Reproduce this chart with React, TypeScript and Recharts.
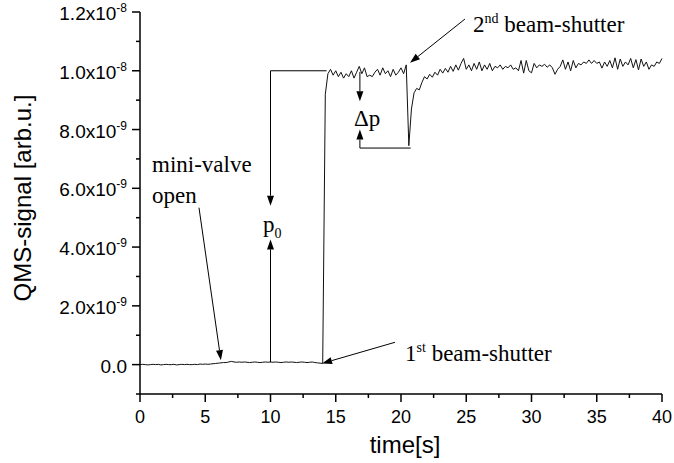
import React from "react";
import { LineChart, Line, XAxis, YAxis, ReferenceLine, ReferenceDot } from "recharts";

// QMS signal in units of 1e-9 arb.u., sampled every 0.2 s
const SAMPLE_STEP = 0.2;

const quietStart = 0;
const quiet = [
  0.0, 0.01, 0.0, -0.01, 0.0, 0.01, 0.0, 0.01, -0.01, 0.0, 0.01, 0.0, 0.0, 0.01, -0.01,
  0.0, 0.01, 0.0, 0.01, 0.0, 0.0, 0.01, 0.0, 0.02, 0.01, 0.02, 0.01, 0.02, 0.03,
];

const valveOpenStart = 5.8;
const valveOpen = [
  0.04, 0.05, 0.06, 0.07, 0.07, 0.09, 0.11, 0.09, 0.08, 0.09, 0.08, 0.09, 0.08, 0.07,
  0.08, 0.09, 0.08, 0.07, 0.08, 0.09, 0.08, 0.09, 0.08, 0.09, 0.08, 0.07, 0.08, 0.09,
  0.08, 0.09, 0.08, 0.07, 0.08, 0.09, 0.08, 0.07, 0.08, 0.09, 0.07, 0.06, 0.05,
];

const firstShutterStart = 14.0;
const firstShutter = [0.04, 9.2, 9.9, 10.05];

const plateauStart = 14.8;
const plateau = [
  9.85, 10.0, 9.8, 9.95, 9.75, 9.9, 9.8, 10.0, 9.75, 9.95, 10.15, 9.9, 10.1, 9.8, 9.85,
  9.8, 9.95, 10.05, 9.85, 10.1, 9.9, 10.0, 9.8, 10.05, 9.85, 9.95, 10.1, 9.9, 10.2,
];

const secondShutterStart = 20.6;
const secondShutter = [
  7.45, 8.7, 9.25, 9.4, 9.35, 9.6, 9.8, 9.72, 9.88, 9.78, 9.95, 9.85, 10.05, 9.92, 10.08,
  9.95, 10.15, 9.98, 10.2, 10.02, 10.25, 10.42,
];

const recoveredStart = 25.0;
const recovered = [
  10.05, 10.2, 10.0, 10.25, 10.05,
  10.3, 10.0, 10.2, 10.05, 10.25,
  10.0, 10.15, 10.1, 10.2, 10.05,
  10.15, 10.1, 10.2, 10.05, 10.1,
  10.0, 10.35, 9.92, 10.35, 10.0,
  9.93, 10.25, 10.1, 10.2, 10.15,
  10.22, 10.12, 10.2, 10.1, 9.88,
  10.05, 10.15, 10.37, 10.05, 10.3,
  10.0, 10.35, 10.1, 10.25, 10.2,
  10.3, 10.25, 10.37, 10.25, 10.35,
  10.25, 10.3, 10.09, 10.3, 10.15,
  10.35, 10.1, 10.44, 10.05, 10.4,
  10.15, 10.3, 10.2, 10.42, 10.1,
  10.38, 10.03, 10.4, 10.15, 10.3,
  10.05, 10.2, 10.15, 10.3, 10.25,
  10.42,
];

const xTicks = [0, 2.5, 5, 7.5, 10, 12.5, 15, 17.5, 20, 22.5, 25, 27.5, 30, 32.5, 35, 37.5, 40];
const xTickLabels = ["0", "5", "10", "15", "20", "25", "30", "35", "40"];
const yTicks = [-1, 0, 1, 2, 3, 4, 5, 6, 7, 8, 9, 10, 11, 12];
const yMajorTicks = [0, 2, 4, 6, 8, 10, 12];
const yTickMantissa = ["0.0", "2.0x10", "4.0x10", "6.0x10", "8.0x10", "1.0x10", "1.2x10"];
const yTickExponent = ["", "-9", "-9", "-9", "-9", "-8", "-8"];

// annotation arrows, [time, signal] in the chart's units
const arrows = [
  { from: [4.52, 5.34], to: [6.2, 0.15], head: true },
  { from: [10.0, 10.0], to: [14.3, 10.0], head: false },
  { from: [10.0, 10.0], to: [10.0, 5.41], head: true },
  { from: [10.0, 0.08], to: [10.0, 4.26], head: true },
  { from: [16.85, 9.96], to: [16.85, 8.96], head: true },
  { from: [16.85, 7.37], to: [16.85, 8.0], head: true },
  { from: [16.85, 7.37], to: [20.74, 7.37], head: false },
  { from: [24.9, 11.76], to: [20.69, 10.27], head: true },
  { from: [19.54, 0.76], to: [13.95, 0.04], head: true },
];

const segments: [number, number[]][] = [
  [quietStart, quiet],
  [valveOpenStart, valveOpen],
  [firstShutterStart, firstShutter],
  [plateauStart, plateau],
  [secondShutterStart, secondShutter],
  [recoveredStart, recovered],
];

const data = segments.flatMap(([start, values]) =>
  values.map((v, i) => ({ t: Math.round((start + i * SAMPLE_STEP) * 10) / 10, v }))
);

const SANS = "'Liberation Sans', Arial, sans-serif";
const SERIF = "'Liberation Serif', 'Times New Roman', serif";
const NOTE_SIZE = 23;

function XTick(props: any) {
  const { x, y, payload } = props;
  const major = payload.value % 5 === 0;
  return (
    <g>
      <line x1={x} x2={x} y1={y} y2={y + (major ? 8 : 4)} stroke="#000" strokeWidth={1.5} />
      {major && (
        <text x={x} y={y + 29} textAnchor="middle" fontFamily={SANS} fontSize={18} fill="#000">
          {xTickLabels[payload.value / 5]}
        </text>
      )}
    </g>
  );
}

function YTick(props: any) {
  const { x, y, payload } = props;
  const idx = yMajorTicks.indexOf(payload.value);
  const major = idx >= 0;
  return (
    <g>
      <line x1={x} x2={x - (major ? 8 : 4)} y1={y} y2={y} stroke="#000" strokeWidth={1.5} />
      {major && (
        <text x={x - 13} y={y + 8} textAnchor="end" fontFamily={SANS} fontSize={19} fill="#000">
          {yTickMantissa[idx]}
          {yTickExponent[idx] && (
            <tspan dy={-8} fontSize={12}>
              {yTickExponent[idx]}
            </tspan>
          )}
        </text>
      )}
    </g>
  );
}

const arrowShape = (head: boolean) => (p: any) => {
  const { x1, y1, x2, y2 } = p;
  if (!head) {
    return <line x1={x1} y1={y1} x2={x2} y2={y2} stroke="#000" strokeWidth={1} />;
  }
  const len = Math.hypot(x2 - x1, y2 - y1) || 1;
  const ux = (x2 - x1) / len;
  const uy = (y2 - y1) / len;
  const hl = 10;
  const hw = 3.5;
  const bx = x2 - ux * hl;
  const by = y2 - uy * hl;
  const pts = `${x2},${y2} ${bx - uy * hw},${by + ux * hw} ${bx + uy * hw},${by - ux * hw}`;
  return (
    <g>
      <line x1={x1} y1={y1} x2={bx} y2={by} stroke="#000" strokeWidth={1} />
      <polygon points={pts} fill="#000" />
    </g>
  );
};

const note = (content: React.ReactNode) => (p: any) => (
  <text x={p.cx} y={p.cy} fontFamily={SERIF} fontSize={NOTE_SIZE} fill="#000">
    {content}
  </text>
);

export default function App() {
  return (
    <div style={{ position: "absolute", left: 0, top: 0, width: 674, height: 463, background: "#fff" }}>
      <LineChart width={674} height={463} data={data} margin={{ top: 12, right: 12, bottom: 0, left: 0 }}>
        <XAxis
          type="number"
          dataKey="t"
          domain={[0, 40]}
          ticks={xTicks}
          interval={0}
          tick={(p: any) => <XTick {...p} />}
          tickLine={false}
          tickSize={0}
          tickMargin={0}
          height={69}
          axisLine={{ stroke: "#000", strokeWidth: 1.5 }}
          label={{
            content: (p: any) => (
              <text
                x={p.viewBox.x + p.viewBox.width / 2 + 4}
                y={p.viewBox.y + 59}
                textAnchor="middle"
                fontFamily={SANS}
                fontSize={24}
                fill="#000"
              >
                time[s]
              </text>
            ),
          }}
        />
        <YAxis
          type="number"
          domain={[-1, 12]}
          ticks={yTicks}
          interval={0}
          tick={(p: any) => <YTick {...p} />}
          tickLine={false}
          tickSize={0}
          tickMargin={0}
          width={140}
          axisLine={{ stroke: "#000", strokeWidth: 1.5 }}
          label={{
            content: (p: any) => {
              const cx = 31;
              const cy = p.viewBox.y + p.viewBox.height / 2 - 5;
              return (
                <text
                  x={cx}
                  y={cy}
                  transform={`rotate(-90, ${cx}, ${cy})`}
                  textAnchor="middle"
                  fontFamily={SANS}
                  fontSize={24}
                  fill="#000"
                >
                  QMS-signal [arb.u.]
                </text>
              );
            },
          }}
        />
        <Line
          type="linear"
          dataKey="v"
          stroke="#111"
          strokeWidth={1}
          dot={false}
          isAnimationActive={false}
        />
        {arrows.map((a, i) => (
          <ReferenceLine
            key={i}
            segment={[
              { x: a.from[0], y: a.from[1] },
              { x: a.to[0], y: a.to[1] },
            ]}
            shape={arrowShape(a.head)}
          />
        ))}
        <ReferenceDot x={0.92} y={6.57} r={0} shape={note("mini-valve")} />
        <ReferenceDot x={0.92} y={5.51} r={0} shape={note("open")} />
        <ReferenceDot
          x={9.43}
          y={4.53}
          r={0}
          shape={note(
            <>
              p
              <tspan dy={6} fontSize={14}>
                0
              </tspan>
            </>
          )}
        />
        <ReferenceDot x={16.4} y={8.11} r={0} shape={note("Δp")} />
        <ReferenceDot
          x={25.52}
          y={11.32}
          r={0}
          shape={note(
            <>
              2
              <tspan dy={-9} fontSize={14}>
                nd
              </tspan>
              <tspan dy={9}> beam-shutter</tspan>
            </>
          )}
        />
        <ReferenceDot
          x={20.31}
          y={0.12}
          r={0}
          shape={note(
            <>
              1
              <tspan dy={-9} fontSize={14}>
                st
              </tspan>
              <tspan dy={9}> beam-shutter</tspan>
            </>
          )}
        />
      </LineChart>
    </div>
  );
}
